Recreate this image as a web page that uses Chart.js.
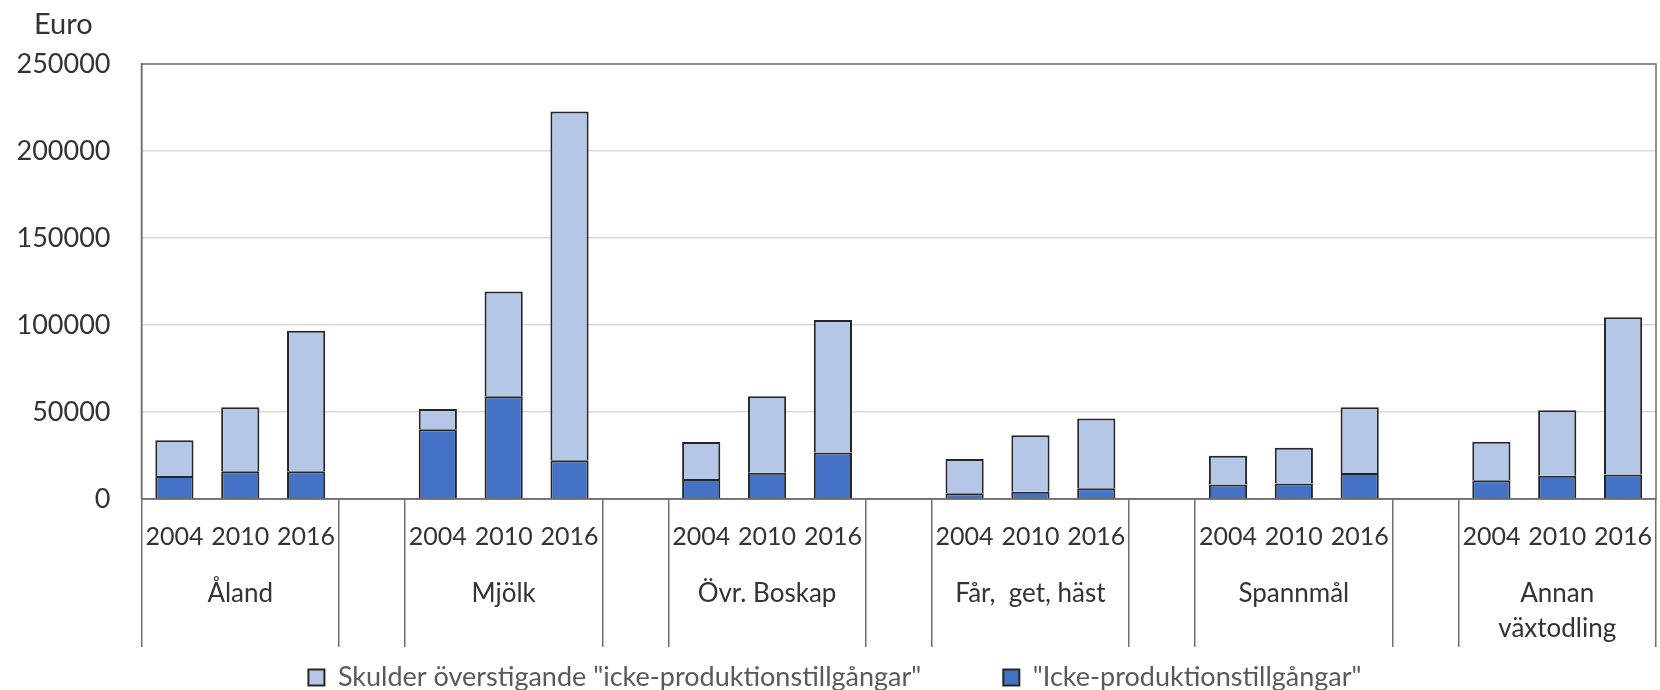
<!DOCTYPE html>
<html>
<head>
<meta charset="utf-8">
<script src="https://cdn.jsdelivr.net/npm/chart.js@4"></script>
<style>
  html, body { margin: 0; padding: 0; background: #fff; }
  canvas { display: block; }
</style>
</head>
<body>
<canvas id="chart" width="1660" height="690"></canvas>
<script>
// slots: 3 years per group, one empty slot between groups
const xLabels = [
  '2004', '2010', '2016', '',
  '2004', '2010', '2016', '',
  '2004', '2010', '2016', '',
  '2004', '2010', '2016', '',
  '2004', '2010', '2016', '',
  '2004', '2010', '2016',
];
const groupNames = ['Åland', 'Mjölk', 'Övr. Boskap', 'Får,  get, häst', 'Spannmål', ['Annan', 'växtodling']];
const yTickValues = [0, 50000, 100000, 150000, 200000, 250000];
const unitLabel = 'Euro';

// "Icke-produktionstillgångar" (bottom part)
const ickeProd = [
  13200, 16000, 16000, null,
  40100, 59000, 22300, null,
  11500, 15100, 26700, null,
  3300, 4200, 6200, null,
  8300, 8900, 15000, null,
  10800, 13400, 14100,
];
// Skulder överstigande (top part)
const skulderOver = [
  20600, 36800, 80700, null,
  11600, 60200, 200400, null,
  21300, 44000, 76200, null,
  19700, 32500, 40000, null,
  16500, 20600, 37700, null,
  22100, 37600, 90400,
];

const fontFamily = "Lato, 'Noto Sans', sans-serif";
const textColor = '#333333';
const axisColor = '#6f6f6f';
Chart.defaults.font.family = fontFamily;

const groupLabels = {
  id: 'groupLabels',
  afterDraw(chart) {
    const { ctx, chartArea: a } = chart;
    const x = chart.scales.x;
    ctx.save();
    ctx.fillStyle = textColor;
    ctx.textBaseline = 'middle';

    ctx.font = `29px ${fontFamily}`;
    ctx.textAlign = 'left';
    ctx.fillText(unitLabel, 34, 25);

    ctx.font = `26px ${fontFamily}`;
    ctx.textAlign = 'center';
    groupNames.forEach((name, i) => {
      const px = x.getPixelForValue(i * 4 + 1);
      const lines = Array.isArray(name) ? name : [name];
      lines.forEach((line, j) => ctx.fillText(line, px, x.top + 95 + j * 35));
    });

    // plot area frame
    ctx.strokeStyle = axisColor;
    ctx.lineWidth = 1.5;
    ctx.strokeRect(a.left, a.top, a.right - a.left, a.bottom - a.top);
    ctx.restore();
  },
};

const ctx = document.getElementById('chart').getContext('2d');
new Chart(ctx, {
  type: 'bar',
  data: {
    labels: xLabels,
    datasets: [
      {
        label: '"Icke-produktionstillgångar"',
        data: ickeProd,
        backgroundColor: '#4472c4',
        borderColor: '#262626',
        borderWidth: 2,
      },
      {
        label: 'Skulder överstigande "icke-produktionstillgångar"',
        data: skulderOver,
        backgroundColor: '#b4c7e7',
        borderColor: '#262626',
        borderWidth: 2,
      },
    ],
  },
  options: {
    responsive: false,
    animation: false,
    devicePixelRatio: 1,
    datasets: { bar: { barPercentage: 0.58, categoryPercentage: 1.0 } },
    layout: { padding: { left: 14, right: 4, top: 64, bottom: 0 } },
    scales: {
      x: {
        stacked: true,
        offset: true,
        grid: {
          display: true,
          drawOnChartArea: false,
          drawTicks: true,
          tickLength: 148,
          offset: true,
          lineWidth: 1.5,
          color: (c) => (c.index === undefined || c.index % 4 === 0 || c.index % 4 === 3) ? axisColor : 'rgba(0,0,0,0)',
        },
        border: { display: true, color: axisColor, width: 1.5 },
        ticks: {
          autoSkip: false,
          maxRotation: 0,
          padding: -125.5,
          font: { size: 25 },
          color: textColor,
        },
        afterFit: (scale) => { scale.height = 83; },
      },
      y: {
        stacked: true,
        min: 0,
        max: 250000,
        afterBuildTicks: (scale) => { scale.ticks = yTickValues.map((v) => ({ value: v })); },
        ticks: {
          padding: 31,
          font: { size: 27 },
          color: textColor,
          callback: (v) => String(v),
        },
        grid: { color: '#d9d9d9', lineWidth: 1.5, drawTicks: false },
        border: { display: true, color: axisColor, width: 1.5 },
        afterFit: (scale) => { scale.width = 127.5; },
      },
    },
    plugins: {
      title: { display: false },
      legend: {
        position: 'bottom',
        reverse: true,
        maxHeight: 108,
        labels: {
          boxWidth: 16,
          boxHeight: 16,
          padding: 82,
          color: '#595959',
          font: { size: 27 },
        },
      },
      tooltip: { enabled: false },
    },
  },
  plugins: [groupLabels],
});
</script>
</body>
</html>
